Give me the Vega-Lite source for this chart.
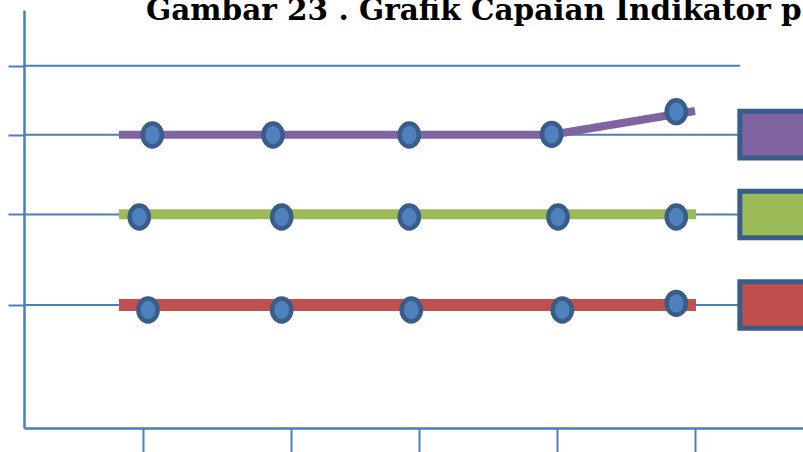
{
  "$schema": "https://vega.github.io/schema/vega-lite/v6.json",
  "autosize": {"type": "none"},
  "width": 779,
  "height": 418,
  "padding": {"left": 24, "top": 10, "right": 0, "bottom": 24},
  "background": "white",
  "title": {
    "text": "Gambar 23 . Grafik Capaian Indikator pada",
    "anchor": "start",
    "frame": "group",
    "font": "DejaVu Serif",
    "fontSize": 29.5,
    "fontWeight": "bold",
    "color": "#000000",
    "baseline": "alphabetic",
    "offset": 0,
    "dx": 122,
    "dy": 39
  },
  "config": {"view": {"stroke": null}},
  "datasets": {
    "levels": [
      {"level": 86.68, "series": "Batas"},
      {"level": 70.17, "series": "Indikator 1"},
      {"level": 51.08, "series": "Indikator 2"},
      {"level": 29.43, "series": "Indikator 3"}
    ],
    "lines": [
      {"series": "Indikator 1", "x": 13.27, "y": 70.17},
      {"series": "Indikator 1", "x": 73.70, "y": 70.17},
      {"series": "Indikator 1", "x": 93.72, "y": 75.84},
      {"series": "Indikator 2", "x": 13.27, "y": 51.12},
      {"series": "Indikator 2", "x": 93.85, "y": 51.12},
      {"series": "Indikator 3", "x": 13.27, "y": 29.43},
      {"series": "Indikator 3", "x": 93.85, "y": 29.43}
    ],
    "markers": [
      {"series": "Indikator 1", "x": 17.92, "y": 70.10},
      {"series": "Indikator 1", "x": 34.78, "y": 70.10},
      {"series": "Indikator 1", "x": 53.81, "y": 70.10},
      {"series": "Indikator 1", "x": 73.70, "y": 70.26},
      {"series": "Indikator 1", "x": 91.10, "y": 75.67},
      {"series": "Indikator 2", "x": 16.10, "y": 50.48},
      {"series": "Indikator 2", "x": 35.99, "y": 50.48},
      {"series": "Indikator 2", "x": 53.81, "y": 50.48},
      {"series": "Indikator 2", "x": 74.58, "y": 50.48},
      {"series": "Indikator 2", "x": 91.10, "y": 50.48},
      {"series": "Indikator 3", "x": 17.32, "y": 28.23},
      {"series": "Indikator 3", "x": 35.99, "y": 28.23},
      {"series": "Indikator 3", "x": 54.09, "y": 28.23},
      {"series": "Indikator 3", "x": 75.18, "y": 28.23},
      {"series": "Indikator 3", "x": 91.10, "y": 29.83}
    ]
  },
  "layer": [
    {
      "data": {"name": "levels"},
      "mark": {"type": "rule", "color": "#4A7EBB", "strokeWidth": 2},
      "encoding": {
        "y": {
          "field": "level",
          "type": "quantitative",
          "scale": {"domain": [0, 100], "nice": false, "zero": false},
          "axis": {
            "values": [86.68, 70.17, 51.08, 29.43],
            "labels": false,
            "title": null,
            "grid": false,
            "tickSize": 16,
            "tickWidth": 2,
            "tickColor": "#4A7EBB",
            "domainColor": "#4A7EBB",
            "domainWidth": 2.5
          }
        },
        "x": {
          "datum": 0,
          "type": "quantitative",
          "scale": {"domain": [0, 108.8], "nice": false, "zero": false},
          "axis": {
            "values": [16.62, 37.29, 55.17, 74.44, 93.72],
            "labels": false,
            "title": null,
            "grid": false,
            "tickSize": 24,
            "tickWidth": 2,
            "tickColor": "#4A7EBB",
            "domainColor": "#4A7EBB",
            "domainWidth": 2.5
          }
        },
        "x2": {"datum": 100}
      }
    },
    {
      "data": {"name": "lines"},
      "mark": {"type": "line", "strokeCap": "butt", "strokeJoin": "miter"},
      "encoding": {
        "x": {"field": "x", "type": "quantitative"},
        "y": {"field": "y", "type": "quantitative"},
        "color": {
          "field": "series",
          "type": "nominal",
          "scale": {"domain": ["Indikator 1", "Indikator 2", "Indikator 3"], "range": ["#8064A2", "#9BBB59", "#C0504D"]},
          "legend": null
        },
        "strokeWidth": {
          "field": "series",
          "type": "nominal",
          "scale": {"domain": ["Indikator 1", "Indikator 2", "Indikator 3"], "range": [8, 12, 8]},
          "legend": null
        }
      }
    },
    {
      "data": {"name": "markers"},
      "mark": {
        "type": "point",
        "shape": "M-0.84,0 A0.84,1 0 1,1 0.84,0 A0.84,1 0 1,1 -0.84,0 Z",
        "size": 520,
        "filled": true,
        "fill": "#4F81BD",
        "stroke": "#385D8A",
        "strokeWidth": 4.5,
        "opacity": 1
      },
      "encoding": {
        "x": {"field": "x", "type": "quantitative"},
        "y": {"field": "y", "type": "quantitative"},
        "detail": {"field": "series"}
      }
    },
    {
      "data": {"name": "levels"},
      "transform": [{"filter": "datum.series != 'Batas'"}],
      "mark": {
        "type": "point",
        "shape": "M-1,-1 H4 V1 H-1 Z",
        "size": 2181,
        "filled": true,
        "stroke": "#385D8A",
        "strokeWidth": 5,
        "opacity": 1
      },
      "encoding": {
        "x": {"datum": 103.24, "type": "quantitative"},
        "y": {"field": "level", "type": "quantitative"},
        "fill": {
          "field": "series",
          "type": "nominal",
          "scale": {"domain": ["Indikator 1", "Indikator 2", "Indikator 3"], "range": ["#8064A2", "#9BBB59", "#C0504D"]},
          "legend": null
        }
      }
    }
  ]
}
